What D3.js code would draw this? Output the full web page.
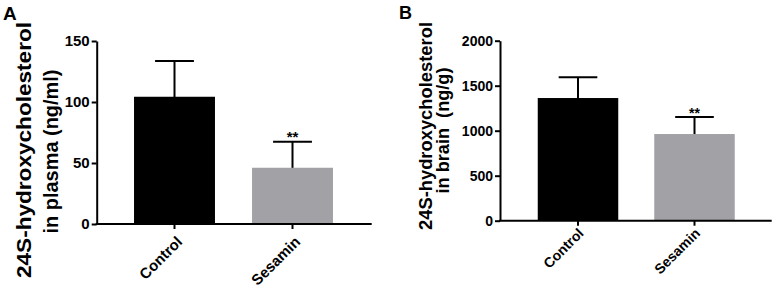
<!DOCTYPE html>
<html>
<head>
<meta charset="utf-8">
<script src="https://cdn.jsdelivr.net/npm/d3@7"></script>
<style>
  body { margin: 0; background: #fff; }
  svg { display: block; }
  text { font-family: Arial, "Liberation Sans", Helvetica, sans-serif; font-weight: bold; fill: #000; }
</style>
</head>
<body>
<svg id="chart" width="775" height="287"></svg>
<script>
// Donnees (moyenne + ecart-type).
const groups = ["Control", "Sesamin"];
const plasmaMeans = [104.3, 46.1];
const plasmaErrors = [29.3, 21.4];
const plasmaTicks = [0, 50, 100, 150];
const brainMeans = [1363, 963];
const brainErrors = [230, 189];
const brainTicks = [0, 500, 1000, 1500, 2000];
const stars = ["", "**"];
const barColors = ["#000000", "#a2a2a6"];

const svg = d3.select("#chart");

// Panneau A : plasma
drawPanel({
    letter: "A", letterX: 3, letterY: 20, letterSize: 19,
    means: plasmaMeans, errors: plasmaErrors, ticks: plasmaTicks,
    yMax: 150, yTop: 41, yBottom: 224,
    axisX: 96.7, axisEnd: 371.7,
    bandStart: 115.5, bandEnd: 351.5, padding: 0.314,
    tickSize: 15, catSize: 15, catShift: [5, 15], starSize: 15,
    labelLines: ["24S-hydroxycholesterol", "in plasma (ng/ml)"],
    labelLengths: [256, 164],
    labelSize: 21, labelCenter: [150, 151.5], labelX: [31, 58]
});

// Panneau B : cerveau
drawPanel({
    letter: "B", letterX: 399, letterY: 19, letterSize: 18,
    means: brainMeans, errors: brainErrors, ticks: brainTicks,
    yMax: 2000, yTop: 40.7, yBottom: 220.7,
    axisX: 500, axisEnd: 771.7,
    bandStart: 519.75, bandEnd: 752.75, padding: 0.309,
    tickSize: 14, catSize: 14, catShift: [3, 10], starSize: 14,
    labelLines: ["24S-hydroxycholesterol", "in brain\u00a0\u00a0(ng/g)"],
    labelLengths: [208, 126],
    labelSize: 18.5, labelCenter: [126, 130.5], labelX: [431.5, 449]
});

function drawPanel(p) {
    const g = svg.append("g");

    const y = d3.scaleLinear()
        .domain([0, p.yMax])
        .range([p.yBottom, p.yTop]);

    const x = d3.scaleBand()
        .domain(groups)
        .range([p.bandStart, p.bandEnd])
        .paddingInner(p.padding)
        .paddingOuter(p.padding / 2);

    // Barres d'erreur (au-dessus seulement, style GraphPad)
    g.selectAll(".err")
        .data(groups)
        .enter()
        .append("line")
        .attr("class", "err")
        .attr("x1", function(d) { return x(d) + x.bandwidth() / 2; })
        .attr("x2", function(d) { return x(d) + x.bandwidth() / 2; })
        .attr("y1", function(d, i) { return y(p.means[i]) + 3; })
        .attr("y2", function(d, i) { return y(p.means[i] + p.errors[i]); })
        .attr("stroke", "#000")
        .attr("stroke-width", 2);

    g.selectAll(".cap")
        .data(groups)
        .enter()
        .append("line")
        .attr("class", "cap")
        .attr("x1", function(d) { return x(d) + x.bandwidth() * 0.26; })
        .attr("x2", function(d) { return x(d) + x.bandwidth() * 0.74; })
        .attr("y1", function(d, i) { return y(p.means[i] + p.errors[i]); })
        .attr("y2", function(d, i) { return y(p.means[i] + p.errors[i]); })
        .attr("stroke", "#000")
        .attr("stroke-width", 2);

    g.selectAll(".bar")
        .data(groups)
        .enter()
        .append("rect")
        .attr("class", "bar")
        .attr("x", function(d) { return x(d); })
        .attr("y", function(d, i) { return y(p.means[i]); })
        .attr("width", x.bandwidth())
        .attr("height", function(d, i) { return y(0) - y(p.means[i]); })
        .attr("fill", function(d, i) { return barColors[i]; });

    // Etoiles de significativite
    g.selectAll(".star")
        .data(groups)
        .enter()
        .append("text")
        .attr("class", "star")
        .attr("x", function(d) { return x(d) + x.bandwidth() / 2; })
        .attr("y", function(d, i) { return y(p.means[i] + p.errors[i]) + 0.5; })
        .attr("text-anchor", "middle")
        .style("font-size", p.starSize + "px")
        .text(function(d, i) { return stars[i]; });

    // Axe Y
    const yAxis = g.append("g")
        .attr("transform", "translate(" + p.axisX + ",0)")
        .call(d3.axisLeft(y)
            .tickValues(p.ticks)
            .tickFormat(d3.format("d"))
            .tickSize(5)
            .tickSizeOuter(0)
            .tickPadding(2));
    yAxis.selectAll("path, line").attr("stroke", "#000").attr("stroke-width", 2);
    yAxis.selectAll("text")
        .style("font-size", p.tickSize + "px")
        .style("font-family", "Arial, 'Liberation Sans', sans-serif");

    // Axe X : ligne propre + graduations sous chaque barre
    g.append("line")
        .attr("x1", p.axisX - 1)
        .attr("x2", p.axisEnd)
        .attr("y1", y(0))
        .attr("y2", y(0))
        .attr("stroke", "#000")
        .attr("stroke-width", 2);

    const xAxis = g.append("g")
        .attr("transform", "translate(0," + y(0) + ")")
        .call(d3.axisBottom(x).tickSize(5).tickSizeOuter(0));
    xAxis.select(".domain").remove();
    xAxis.selectAll("line").attr("stroke", "#000").attr("stroke-width", 2);
    xAxis.selectAll("text")
        .attr("text-anchor", "end")
        .attr("dy", "0.35em")
        .attr("transform", "translate(" + p.catShift[0] + "," + p.catShift[1] + ") rotate(-45)")
        .attr("x", 0)
        .attr("y", 0)
        .style("font-size", p.catSize + "px")
        .style("font-family", "Arial, 'Liberation Sans', sans-serif");

    // Titre de l'axe Y sur deux lignes
    p.labelLines.forEach(function(line, i) {
        g.append("text")
            .attr("transform", "translate(" + p.labelX[i] + "," + p.labelCenter[i] + ") rotate(-90)")
            .attr("text-anchor", "middle")
            .attr("textLength", p.labelLengths[i])
            .attr("lengthAdjust", "spacingAndGlyphs")
            .style("font-size", p.labelSize + "px")
            .text(line);
    });

    g.append("text")
        .attr("x", p.letterX)
        .attr("y", p.letterY)
        .style("font-size", p.letterSize + "px")
        .text(p.letter);
}
</script>
</body>
</html>
